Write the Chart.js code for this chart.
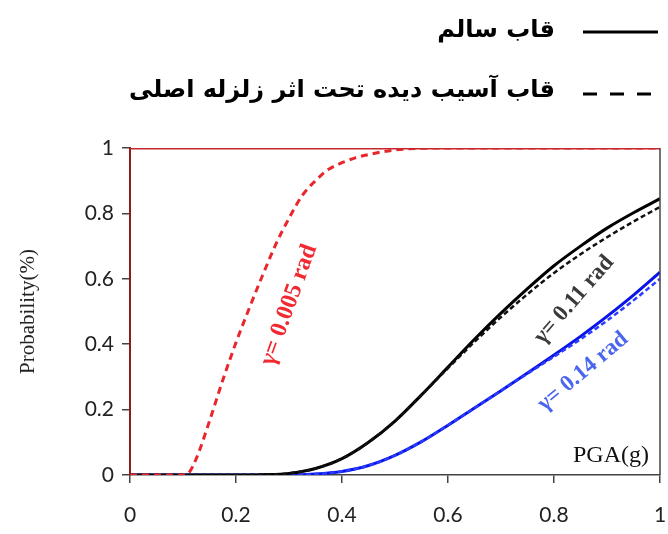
<!DOCTYPE html>
<html>
<head>
<meta charset="utf-8">
<script src="https://cdn.jsdelivr.net/npm/chart.js@4.4.1/dist/chart.umd.min.js"></script>
<style>
  html, body { margin: 0; padding: 0; background: #fff; }
  #wrap { width: 668px; height: 534px; }
</style>
</head>
<body>
<div id="wrap"><canvas id="fragility"></canvas></div>
<script>
// PGA (g) grid for the 0.005 rad curves
const pgaRed = [0, 0.05, 0.1, 0.11, 0.125, 0.15, 0.175, 0.2, 0.225, 0.25, 0.275, 0.3, 0.325,
                0.35, 0.375, 0.4, 0.425, 0.45, 0.5, 0.55, 0.6, 0.7, 0.8, 0.9, 1];
const redHealthy = [1, 1, 1, 1, 1, 1, 1, 1, 1, 1, 1, 1, 1, 1, 1, 1, 1, 1, 1, 1, 1, 1, 1, 1, 1];
const redDamaged = [0, 0, 0, 0.005, 0.05, 0.165, 0.29, 0.405, 0.51, 0.61, 0.705, 0.785, 0.855,
                    0.9, 0.935, 0.955, 0.97, 0.98, 0.994, 0.999, 1, 1, 1, 1, 1];

// PGA (g) grid for the 0.11 and 0.14 rad curves
const pgaMain = [0, 0.05, 0.1, 0.15, 0.2, 0.25, 0.3, 0.35, 0.4, 0.45, 0.5,
                 0.55, 0.6, 0.65, 0.7, 0.75, 0.8, 0.85, 0.9, 0.95, 1];
const blackHealthy = [0, 0, 0, 0, 0, 0.001, 0.005, 0.02, 0.05, 0.1, 0.165,
                      0.245, 0.33, 0.415, 0.495, 0.57, 0.64, 0.7, 0.755, 0.802, 0.845];
const blackDamaged = [0, 0, 0, 0, 0, 0.001, 0.005, 0.02, 0.05, 0.1, 0.165,
                      0.245, 0.327, 0.407, 0.483, 0.553, 0.618, 0.675, 0.727, 0.775, 0.82];
const blueHealthy = [0, 0, 0, 0, 0, 0, 0, 0.003, 0.011, 0.029, 0.06,
                     0.102, 0.152, 0.205, 0.258, 0.312, 0.367, 0.424, 0.485, 0.55, 0.62];
const blueDamaged = [0, 0, 0, 0, 0, 0, 0, 0.003, 0.011, 0.029, 0.06,
                     0.102, 0.152, 0.205, 0.258, 0.31, 0.362, 0.415, 0.472, 0.534, 0.6];

const axisTicks = [0, 0.2, 0.4, 0.6, 0.8, 1];
const legendLabels = ['قاب سالم', 'قاب آسیب دیده تحت اثر زلزله اصلی'];
const curveLabels = ['γ= 0.005 rad', 'γ= 0.11 rad', 'γ= 0.14 rad'];

function pts(xs, ys) {
  return xs.map((x, i) => ({ x: x, y: ys[i] }));
}

function series(xs, ys, color, width, dash) {
  return {
    data: pts(xs, ys),
    borderColor: color,
    borderWidth: width,
    borderDash: dash || [],
    pointRadius: 0,
    fill: false,
    cubicInterpolationMode: 'monotone'
  };
}

// legend, curve labels, PGA label and right frame edge
const extras = {
  id: 'extras',
  afterDraw(chart) {
    const ctx = chart.ctx;
    const a = chart.chartArea;
    const xs = chart.scales.x, ys = chart.scales.y;
    ctx.save();

    // right frame
    ctx.strokeStyle = '#444';
    ctx.lineWidth = 1.5;
    ctx.beginPath();
    ctx.moveTo(a.right, a.top);
    ctx.lineTo(a.right, a.bottom);
    ctx.stroke();

    // legend
    ctx.strokeStyle = '#000';
    ctx.lineWidth = 3;
    ctx.beginPath();
    ctx.moveTo(583, 32); ctx.lineTo(658, 32);
    ctx.stroke();
    ctx.setLineDash([14, 13]);
    ctx.beginPath();
    ctx.moveTo(583, 94); ctx.lineTo(660, 94);
    ctx.stroke();
    ctx.setLineDash([]);
    ctx.fillStyle = '#000';
    ctx.font = 'bold 24px "DejaVu Sans"';
    ctx.direction = 'rtl';
    ctx.textAlign = 'right';
    ctx.textBaseline = 'middle';
    ctx.fillText(legendLabels[0], 555, 31);
    ctx.fillText(legendLabels[1], 555, 91);
    ctx.direction = 'ltr';

    // curve labels
    const lbl = (text, px, py, deg, color, size) => {
      ctx.save();
      ctx.translate(xs.getPixelForValue(px), ys.getPixelForValue(py));
      ctx.rotate(-deg * Math.PI / 180);
      ctx.fillStyle = color;
      ctx.font = 'bold ' + size + 'px "Liberation Serif"';
      ctx.textAlign = 'center';
      ctx.textBaseline = 'middle';
      ctx.fillText(text, 0, 0);
      ctx.restore();
    };
    lbl(curveLabels[0], 0.30, 0.52, 70, '#f02a30', 24);
    lbl(curveLabels[1], 0.838, 0.536, 49, '#3a3a3a', 23);
    lbl(curveLabels[2], 0.855, 0.316, 40, '#4a66ee', 23);

    // axis name inside the plot
    ctx.fillStyle = '#111';
    ctx.font = '24px "Liberation Serif"';
    ctx.textAlign = 'right';
    ctx.textBaseline = 'alphabetic';
    ctx.fillText('PGA(g)', a.right - 11, a.bottom - 13);
    ctx.restore();
  }
};

const tickFont = { family: 'Lato', size: 21 };

new Chart(document.getElementById('fragility'), {
  type: 'line',
  data: {
    datasets: [
      series(pgaRed, redHealthy, '#c8282c', 3),
      series(pgaRed, redDamaged, '#e8262c', 3, [7, 5]),
      series(pgaMain, blackDamaged, '#111', 2.5, [5, 3]),
      series(pgaMain, blackHealthy, '#000', 3),
      series(pgaMain, blueDamaged, '#2a3cff', 2.5, [5, 3]),
      series(pgaMain, blueHealthy, '#0a14e8', 3)
    ]
  },
  options: {
    responsive: true,
    maintainAspectRatio: false,
    animation: false,
    layout: { padding: { top: 148, right: 8, left: 0, bottom: 0 } },
    plugins: {
      legend: { display: false },
      tooltip: { enabled: false }
    },
    scales: {
      x: {
        type: 'linear',
        min: 0, max: 1,
        afterBuildTicks: s => { s.ticks = axisTicks.map(v => ({ value: v })); },
        afterFit: s => { s.height = 59; s.paddingLeft = 0; s.paddingRight = 0; },
        grid: { drawOnChartArea: false, drawTicks: true, tickLength: 8, tickColor: '#444', lineWidth: 1.5 },
        border: { color: '#444', width: 1.5 },
        ticks: { font: tickFont, color: '#222', padding: 20, maxRotation: 0, callback: v => String(v) }
      },
      y: {
        min: 0, max: 1,
        afterBuildTicks: s => { s.ticks = axisTicks.map(v => ({ value: v })); },
        afterFit: s => { s.width = 130; },
        grid: { drawOnChartArea: false, drawTicks: true, tickLength: 8, tickColor: '#444', lineWidth: 1.5 },
        border: { color: '#8a1c1c', width: 2 },
        ticks: { font: tickFont, color: '#222', padding: 8, callback: v => String(v) },
        title: {
          display: true,
          text: 'Probability(%)',
          font: { family: 'Liberation Serif', size: 21 },
          color: '#222',
          padding: { top: 16, bottom: 0 }
        }
      }
    }
  },
  plugins: [extras]
});
</script>
</body>
</html>
